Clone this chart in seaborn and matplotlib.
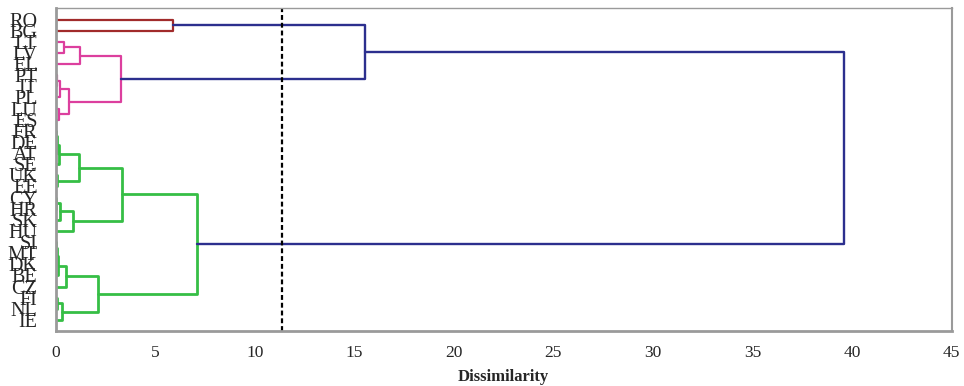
import matplotlib
matplotlib.use("Agg")
import matplotlib.pyplot as plt
import seaborn as sns
import pandas as pd

# ---- data ----
labels = ["RO", "BG", "LT", "LV", "EL", "PT", "IT", "PL", "LU", "ES",
          "FR", "DE", "AT", "SE", "UK", "EE", "CY", "HR", "SK", "HU",
          "SI", "MT", "DK", "BE", "CZ", "FI", "NL", "IE"]

# merges: child A, child B (leaf name or "m<i>"), height (dissimilarity), cluster
merge_a = ["RO", "LT", "m1", "PT", "m3", "LU", "m4", "m2", "m0",
           "FR", "m9", "m10", "UK", "m11", "CY", "m14", "m15", "m13",
           "SI", "m18", "m19", "m20", "FI", "m22", "m21", "m17", "m8"]
merge_b = ["BG", "LV", "EL", "IT", "PL", "ES", "m5", "m6", "m7",
           "DE", "AT", "SE", "EE", "m12", "HR", "SK", "HU", "m16",
           "MT", "DK", "BE", "CZ", "NL", "IE", "m23", "m24", "m25"]
merge_h = [5.92, 0.45, 1.24, 0.06, 0.23, 0.17, 0.70, 3.28, 15.55,
           0.02, 0.05, 0.18, 0.09, 1.19, 0.04, 0.23, 0.89, 3.32,
           0.03, 0.06, 0.11, 0.51, 0.09, 0.31, 2.14, 7.12, 39.6]
merge_c = ["red", "pink", "pink", "pink", "pink", "pink", "pink", "pink", "blue",
           "green", "green", "green", "green", "green", "green", "green", "green", "green",
           "green", "green", "green", "green", "green", "green", "green", "green", "blue"]
cut_level = 11.35

palette = {"red": "#A12B2B", "pink": "#DC3F9E", "green": "#36BE45", "blue": "#2C2F8E"}

# ---- build dendrogram segments ----
pos = {lab: (0.0, float(i)) for i, lab in enumerate(labels)}
rows = []
for i, (a, b, h, c) in enumerate(zip(merge_a, merge_b, merge_h, merge_c)):
    xa, ya = pos[a]
    xb, yb = pos[b]
    for k, (x, y) in enumerate([(xa, ya), (h, ya), (h, yb), (xb, yb)]):
        rows.append({"seg": i, "order": k, "x": x, "y": y, "cluster": c})
    pos[f"m{i}"] = (h, (ya + yb) / 2)
df = pd.DataFrame(rows)

# ---- plot ----
sns.set_theme(style="white")
plt.rcParams["font.family"] = ["Liberation Serif", "DejaVu Serif"]

fig = plt.figure(figsize=(9.64, 3.86), dpi=100)
ax = fig.add_axes([0.0576, 0.1425, 0.9295, 0.8365])

for cl, lw in [("green", 2.0), ("pink", 1.6), ("red", 1.6), ("blue", 1.7)]:
    sub = df[df["cluster"] == cl]
    sns.lineplot(data=sub, x="x", y="y", units="seg", estimator=None, sort=False,
                 color=palette[cl], linewidth=lw, ax=ax, legend=False)

ax.axvline(cut_level, color="black", linestyle=(0, (2.2, 1.3)), linewidth=1.6)

ax.set_xlim(0, 45)
ax.set_ylim(len(labels) - 1 + 0.99, -1.03)
ax.set_xticks(range(0, 46, 5))
ax.set_yticks(range(len(labels)))
ax.set_yticklabels(labels, fontsize=14.5)
ax.tick_params(axis="y", length=0, pad=13)
ax.tick_params(axis="x", direction="inout", length=8, width=1, color="#999999",
               labelsize=12.5, pad=6)
ax.set_xlabel("Dissimilarity", fontsize=12, fontweight="bold", labelpad=6)
ax.set_ylabel("")

for side, w in [("left", 2.0), ("bottom", 2.0), ("top", 1.0), ("right", 1.5)]:
    ax.spines[side].set_visible(True)
    ax.spines[side].set_color("#9a9a9a")
    ax.spines[side].set_linewidth(w)

fig.savefig("out.png", dpi=100)
